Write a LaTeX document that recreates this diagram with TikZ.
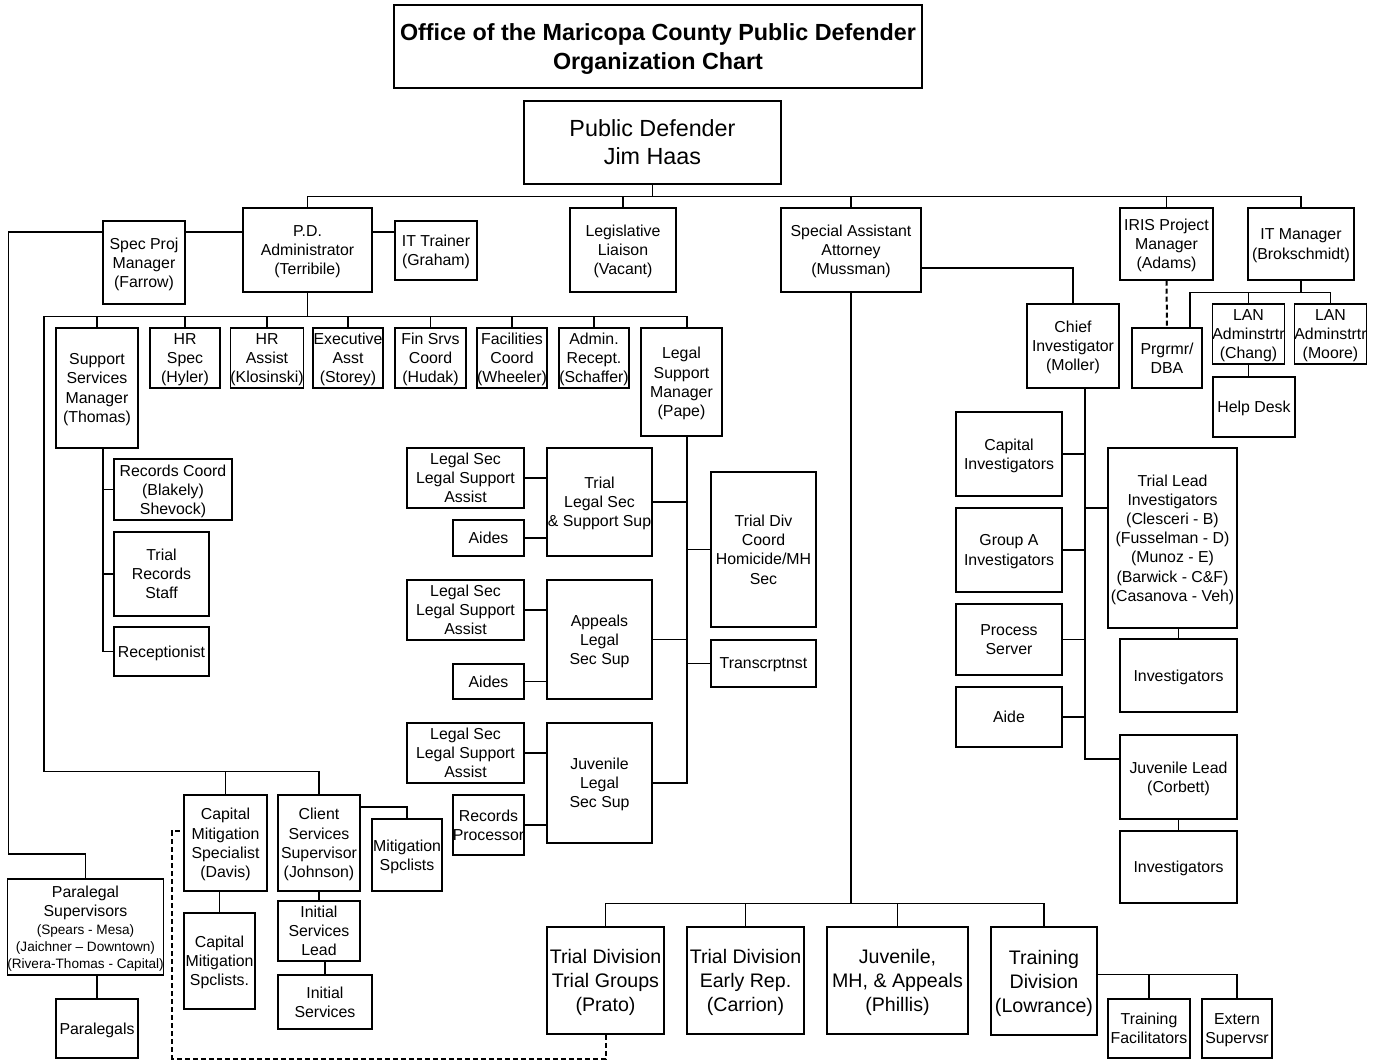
\documentclass[tikz,border=0pt]{standalone}
\usepackage{fontspec}
\setmainfont{Liberation Sans}

\begin{document}
\begin{tikzpicture}[
        x=0.75pt, y=-0.75pt,
        line width=1.1pt,
        box/.style={
            rectangle,
            draw,
            align=center,
            inner sep=0pt,
            text depth=-1.5pt,
            font=\fontsize{11.9}{14.4}\selectfont
        },
        sz/.style 2 args={minimum width=#1*0.75pt, minimum height=#2*0.75pt},
        big/.style={font=\fontsize{17.5}{21}\selectfont},
        division/.style={font=\fontsize{14.7}{18}\selectfont},
        dashlink/.style={dash pattern=on 3.75pt off 2.25pt, line width=1.5pt}
    ]
        \useasboundingbox (0,0) rectangle (1377,1061);

        \node (1) [box, sz={528}{83}, font=\fontsize{17.5}{21.75}\selectfont\bfseries] at (658,46.5)
            {Office of the Maricopa County Public Defender\\Organization Chart};
        \node (2) [box, big, sz={257}{83}] at (652.5,142.5) {Public Defender\\Jim Haas};

        \node (3) [box, sz={82}{83}] at (144,262.5) {Spec Proj\\Manager\\(Farrow)};
        \node (4) [box, sz={129}{84}] at (307.5,250) {P.D.\\Administrator\\(Terribile)};
        \node (5) [box, sz={82}{59}] at (436,250.5) {IT Trainer\\(Graham)};
        \node (6) [box, sz={106}{84}] at (623,250) {Legislative\\Liaison\\(Vacant)};
        \node (7) [box, sz={140}{84}] at (851,250) {Special Assistant\\Attorney\\(Mussman)};
        \node (8) [box, sz={93}{72}] at (1166.5,244) {IRIS Project\\Manager\\(Adams)};
        \node (9) [box, sz={106}{72}] at (1301,244) {IT Manager\\(Brokschmidt)};

        \node (10) [box, sz={82}{120}] at (97,388) {Support\\Services\\Manager\\(Thomas)};
        \node (11) [box, sz={70}{60}] at (185,358) {HR\\Spec\\(Hyler)};
        \node (12) [box, sz={70}{60}] at (267,358) {HR\\Assist\\(Klosinski)};
        \node (13) [box, sz={70}{60}] at (348,358) {Executive\\Asst\\(Storey)};
        \node (14) [box, sz={71}{60}] at (430.5,358) {Fin Srvs\\Coord\\(Hudak)};
        \node (15) [box, sz={70}{60}] at (512,358) {Facilities\\Coord\\(Wheeler)};
        \node (16) [box, sz={70}{60}] at (594,358) {Admin.\\Recept.\\(Schaffer)};
        \node (17) [box, sz={81}{108}] at (681.5,382) {Legal\\Support\\Manager\\(Pape)};

        \node (18) [box, sz={118}{61}] at (173,489.5) {Records Coord\\(Blakely)\\Shevock)};
        \node (19) [box, sz={95}{84}] at (161.5,574) {Trial\\Records\\Staff};
        \node (20) [box, sz={95}{49}] at (161.5,651.5) {Receptionist};

        \node (21) [box, sz={117}{60}] at (465.5,478) {Legal Sec\\Legal Support\\Assist};
        \node (22) [box, sz={71}{36}] at (488.5,538) {Aides};
        \node (23) [box, sz={105}{108}] at (599.5,502) {Trial\\Legal Sec\\\& Support Sup};
        \node (24) [box, sz={117}{60}] at (465.5,610) {Legal Sec\\Legal Support\\Assist};
        \node (25) [box, sz={71}{35}] at (488.5,681.5) {Aides};
        \node (26) [box, sz={105}{119}] at (599.5,639.5) {Appeals\\Legal\\Sec Sup};
        \node (27) [box, sz={117}{60}] at (465.5,753) {Legal Sec\\Legal Support\\Assist};
        \node (28) [box, sz={71}{60}] at (488.5,825) {Records\\Processor};
        \node (29) [box, sz={105}{120}] at (599.5,783) {Juvenile\\Legal\\Sec Sup};
        \node (30) [box, sz={105}{155}] at (763.5,549.5) {Trial Div\\Coord\\Homicide/MH\\Sec};
        \node (31) [box, sz={105}{47}] at (763.5,663.5) {Transcrptnst};

        \node (32) [box, sz={92}{84}] at (1073,346) {Chief\\Investigator\\(Moller)};
        \node (33) [box, sz={70}{60}] at (1167,358) {Prgrmr/\\DBA};
        \node (34) [box, sz={71}{60}] at (1248.5,334) {LAN\\Adminstrtr\\(Chang)};
        \node (35) [box, sz={71}{60}] at (1330.5,334) {LAN\\Adminstrtr\\(Moore)};
        \node (36) [box, sz={82}{60}] at (1254,407) {Help Desk};

        \node (37) [box, sz={106}{84}] at (1009,454) {Capital\\Investigators};
        \node (38) [box, sz={106}{84}] at (1009,550) {Group A\\Investigators};
        \node (39) [box, sz={106}{71}] at (1009,639.5) {Process\\Server};
        \node (40) [box, sz={106}{60}] at (1009,717) {Aide};
        \node (41) [box, sz={129}{180}] at (1172.5,538)
            {Trial Lead\\Investigators\\(Clesceri - B)\\(Fusselman - D)\\(Munoz - E)\\(Barwick - C\&F)\\(Casanova - Veh)};
        \node (42) [box, sz={117}{73}] at (1178.5,675.5) {Investigators};
        \node (43) [box, sz={117}{84}] at (1178.5,777) {Juvenile Lead\\(Corbett)};
        \node (44) [box, sz={117}{72}] at (1178.5,867) {Investigators};

        \node (45) [box, sz={83}{96}] at (225.5,843) {Capital\\Mitigation\\Specialist\\(Davis)};
        \node (46) [box, sz={82}{96}] at (319,843) {Client\\Services\\Supervisor\\(Johnson)};
        \node (47) [box, sz={70}{72}] at (407,855) {Mitigation\\Spclists};
        \node (48) [box, sz={71}{96}] at (219.5,961) {Capital\\Mitigation\\Spclists.};
        \node (49) [box, sz={82}{60}] at (319,931) {Initial\\Services\\Lead};
        \node (50) [box, sz={94}{54}] at (325,1002) {Initial\\Services};
        \node (51) [box, sz={153}{96}] at (85.5,927)
            {Paralegal\\Supervisors\\[-0.9pt]
             {\fontsize{10.2}{12.8}\selectfont (Spears - Mesa)}\\[-1.65pt]
             {\fontsize{10.2}{12.8}\selectfont (Jaichner – Downtown)}\\[-1.65pt]
             {\fontsize{10.2}{12.8}\selectfont (Rivera-Thomas - Capital)}};
        \node (52) [box, sz={82}{59}] at (97,1028.5) {Paralegals};

        \node (53) [box, division, sz={117}{107}] at (605.5,980.5) {Trial Division\\Trial Groups\\(Prato)};
        \node (54) [box, division, sz={117}{107}] at (745.5,980.5) {Trial Division\\Early Rep.\\(Carrion)};
        \node (55) [box, division, sz={141}{107}] at (897.5,980.5) {Juvenile,\\MH, \& Appeals\\(Phillis)};
        \node (56) [box, division, sz={106}{108}] at (1044,981) {Training\\Division\\(Lowrance)};
        \node (57) [box, sz={82}{59}] at (1149,1028.5) {Training\\Facilitators};
        \node (58) [box, sz={70}{59}] at (1237,1028.5) {Extern\\Supervsr};

        \draw (2.south) -- ++(0,12) -| (4.north);
        \draw (2.south) -- ++(0,12) -| (6.north);
        \draw (2.south) -- ++(0,12) -| (7.north);
        \draw (2.south) -- ++(0,12) -| (8.north);
        \draw (2.south) -- ++(0,12) -| (9.north);
        \draw ([yshift=13.5pt]4.west) -- ([yshift=13.5pt]4.west -| 3.east);
        \draw ([yshift=13.5pt]4.east) -- ([yshift=13.5pt]4.east -| 5.west);
        \draw ([yshift=22.9pt]3.west) -| ++(-94,622) -| (51.north);
        \draw (52.north) -- (52.north |- 51.south);

        \draw (4.south) -- ++(0,24) -| (10.north);
        \draw (4.south) -- ++(0,24) -| (11.north);
        \draw (4.south) -- ++(0,24) -| (12.north);
        \draw (4.south) -- ++(0,24) -| (13.north);
        \draw (4.south) -- ++(0,24) -| (14.north);
        \draw (4.south) -- ++(0,24) -| (15.north);
        \draw (4.south) -- ++(0,24) -| (16.north);
        \draw (4.south) -- ++(0,24) -| ([xshift=4pt]17.north);
        \draw (4.south) -- ++(0,24) -| ++(-263.5,455) -| (45.north);
        \draw (4.south) -- ++(0,24) -| ++(-263.5,455) -| (46.north);

        \draw ([xshift=4.5pt]10.south) |- (18.west);
        \draw ([xshift=4.5pt]10.south) |- (19.west);
        \draw ([xshift=4.5pt]10.south) |- (20.west);

        \draw ([xshift=4pt]17.south) |- (23.east);
        \draw ([xshift=4pt]17.south) |- (26.east);
        \draw ([xshift=4pt]17.south) |- (29.east);
        \draw ([xshift=4pt]17.south) |- (30.west);
        \draw ([xshift=4pt]17.south) |- (31.west);
        \draw (21.east) -- (21.east -| 23.west);
        \draw (22.east) -- (22.east -| 23.west);
        \draw (24.east) -- (24.east -| 26.west);
        \draw (25.east) -- (25.east -| 26.west);
        \draw (27.east) -- (27.east -| 29.west);
        \draw (28.east) -- (28.east -| 29.west);

        \draw (48.north) -- (48.north |- 45.south);
        \draw (46.south) -- (49.north);
        \draw (50.north) -- (50.north |- 49.south);
        \draw ([yshift=27pt]46.east) -| (47.north);

        \draw ([yshift=-13.5pt]7.east) -| (32.north);
        \draw ([xshift=9pt]32.south) |- (37.east);
        \draw ([xshift=9pt]32.south) |- (38.east);
        \draw ([xshift=9pt]32.south) |- (39.east);
        \draw ([xshift=9pt]32.south) |- (40.east);
        \draw ([xshift=9pt]32.south) |- ([yshift=22.5pt]41.west);
        \draw ([xshift=9pt]32.south) |- ([yshift=13.5pt]43.west);
        \draw (42.north) -- (42.north |- 41.south);
        \draw (43.south) -- (44.north);

        \draw[dashlink] (8.south) -- (33.north);
        \draw (9.south) -- ++(0,12) -| ([xshift=17.25pt]33.north);
        \draw (9.south) -- ++(0,12) -| (34.north);
        \draw (9.south) -- ++(0,12) -| (35.north);
        \draw (34.south) -- (34.south |- 36.north);

        \draw (7.south) -- ++(0,611) -| (53.north);
        \draw (7.south) -- ++(0,611) -| (54.north);
        \draw (7.south) -- ++(0,611) -| (55.north);
        \draw (7.south) -- ++(0,611) -| (56.north);
        \draw ([yshift=5pt]56.east) -| (57.north);
        \draw ([yshift=5pt]56.east) -| (58.north);
        \draw[dashlink] (53.south) -- ++(0,24) -| ([xshift=-8.25pt,yshift=9pt]45.west) -- ([yshift=9pt]45.west);
    \end{tikzpicture}
\end{document}
